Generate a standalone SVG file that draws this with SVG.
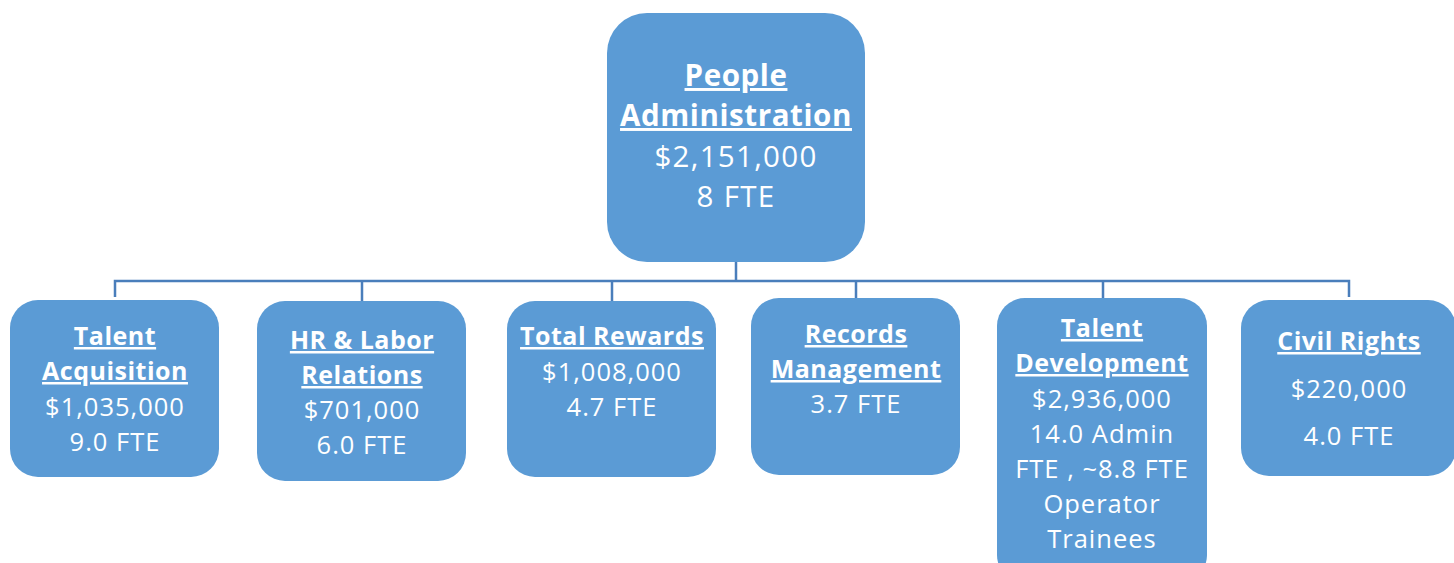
<svg xmlns="http://www.w3.org/2000/svg" width="1454" height="563" viewBox="0 0 1454 563">
<style>
.box{fill:#5B9BD5;}
.t{font-family:"Open Sans","Liberation Sans",sans-serif;fill:#FFFFFF;text-anchor:middle;font-size:25.5px;letter-spacing:1px;}
.b{font-weight:bold;text-decoration:underline;font-size:25px;letter-spacing:0.5px;}
.r{font-size:29.5px;letter-spacing:1.3px;}
.rb{font-weight:bold;text-decoration:underline;font-size:29.5px;letter-spacing:0.6px;}
.conn{stroke:#4A7EBB;stroke-width:2.5;fill:none;}
</style>
<rect width="1454" height="563" fill="#FFFFFF"/>
<g id="connectors">
<path class="conn" d="M736 262V281M115 297V281H1349V297M362 281V301M612 281V301M856 281V298M1103 281V298"/>
</g>
<g id="root">
<rect class="box" x="607" y="13" width="258" height="249" rx="40"/>
<text class="t rb" x="736" y="86">People</text>
<text class="t rb" x="736" y="126">Administration</text>
<text class="t r" x="736" y="167">$2,151,000</text>
<text class="t r" x="736" y="207">8 FTE</text>
</g>
<g id="talent-acquisition">
<rect class="box" x="10" y="300" width="209" height="177" rx="28"/>
<text class="t b" x="115" y="345">Talent</text>
<text class="t b" x="115" y="380">Acquisition</text>
<text class="t" x="115" y="416">$1,035,000</text>
<text class="t" x="115" y="451">9.0 FTE</text>
</g>
<g id="hr-labor">
<rect class="box" x="257" y="301" width="209" height="180" rx="28"/>
<text class="t b" x="362" y="349">HR &amp; Labor</text>
<text class="t b" x="362" y="384">Relations</text>
<text class="t" x="362" y="419">$701,000</text>
<text class="t" x="362" y="454">6.0 FTE</text>
</g>
<g id="total-rewards">
<rect class="box" x="507" y="301" width="209" height="176" rx="28"/>
<text class="t b" x="612" y="345">Total Rewards</text>
<text class="t" x="612" y="381">$1,008,000</text>
<text class="t" x="612" y="416">4.7 FTE</text>
</g>
<g id="records">
<rect class="box" x="751" y="298" width="209" height="177" rx="28"/>
<text class="t b" x="856" y="343">Records</text>
<text class="t b" x="856" y="378">Management</text>
<text class="t" x="856" y="413">3.7 FTE</text>
</g>
<g id="talent-development">
<rect class="box" x="997" y="298" width="210" height="285" rx="28"/>
<text class="t b" x="1102" y="337">Talent</text>
<text class="t b" x="1102" y="372">Development</text>
<text class="t" x="1102" y="408">$2,936,000</text>
<text class="t" x="1102" y="443">14.0 Admin</text>
<text class="t" x="1102" y="478">FTE , ~8.8 FTE</text>
<text class="t" x="1102" y="513">Operator</text>
<text class="t" x="1102" y="548">Trainees</text>
</g>
<g id="civil-rights">
<rect class="box" x="1241" y="300" width="215" height="176" rx="28"/>
<text class="t b" x="1349" y="350">Civil Rights</text>
<text class="t" x="1349" y="398">$220,000</text>
<text class="t" x="1349" y="445">4.0 FTE</text>
</g>
</svg>
